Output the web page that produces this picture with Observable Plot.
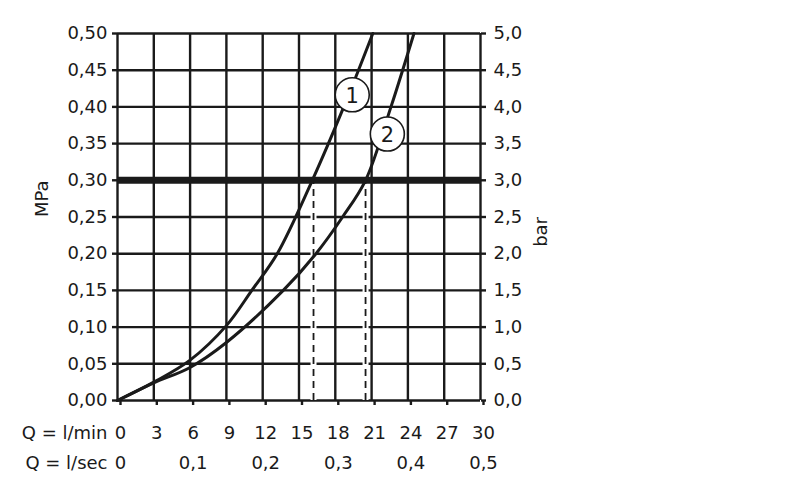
<!DOCTYPE html>
<html>
<head>
<meta charset="utf-8">
<script src="https://cdn.jsdelivr.net/npm/d3@7"></script>
<script src="https://cdn.jsdelivr.net/npm/@observablehq/plot@0.6"></script>
<style>
  html, body { margin: 0; padding: 0; background: #fff; }
  #wrap { position: relative; width: 800px; height: 495px; }
  #title { position: absolute; left: 636px; top: 26px; font-family: "Liberation Sans", Arial, sans-serif; font-size: 20px; color: #111; white-space: nowrap; }
</style>
</head>
<body>
<div id="wrap"><div id="title">Отвод ванны</div></div>
<script>
// Tick values / labels
const pressureTicks = [0, 0.05, 0.10, 0.15, 0.20, 0.25, 0.30, 0.35, 0.40, 0.45, 0.50];
const flowTicks = [0, 3, 6, 9, 12, 15, 18, 21, 24, 27, 30];
const secTicks = [0, 6, 12, 18, 24, 30];
const secLabels = ["0", "0,1", "0,2", "0,3", "0,4", "0,5"];

// Curve 1 (l/min vs MPa)
const curve1Q = [0, 3, 6, 9, 11.1, 13.2, 16.1, 18.7, 21.1];
const curve1P = [0, 0.025, 0.055, 0.102, 0.15, 0.20, 0.30, 0.40, 0.50];
// Curve 2
const curve2Q = [0, 3, 6, 9, 13.7, 16.4, 18.6, 20.5, 22.6, 24.5];
const curve2P = [0, 0.024, 0.045, 0.079, 0.15, 0.20, 0.25, 0.30, 0.40, 0.50];

// Reference pressure line and flow markers
const refPressure = [0.30];
const markerQ = [16.2, 20.5];

// Curve labels
const labelNames = ["1", "2"];
const labelQ = [19.4, 22.3];
const labelP = [0.4165, 0.363];

const c1 = curve1Q.map((q, i) => ({q, p: curve1P[i]}));
const c2 = curve2Q.map((q, i) => ({q, p: curve2P[i]}));
const labels = labelNames.map((t, i) => ({t, q: labelQ[i], p: labelP[i]}));
const secData = secTicks.map((q, i) => ({q, t: secLabels[i]}));
const fmtMPa = d => d.toFixed(2).replace(".", ",");
const fmtBar = d => (d * 10).toFixed(1).replace(".", ",");
const ink = "#1a1a1a";

const chart = Plot.plot({
  width: 800,
  height: 495,
  marginLeft: 117,
  marginRight: 320,
  marginTop: 33,
  marginBottom: 95,
  style: {fontFamily: "DejaVu Sans", fontSize: "18px", color: ink, background: "white"},
  x: {domain: [0, 30]},
  y: {domain: [0, 0.5]},
  marks: [
    Plot.ruleX(flowTicks, {stroke: ink, strokeWidth: 2.4}),
    Plot.ruleY(pressureTicks, {stroke: ink, strokeWidth: 2.4}),
    Plot.axisY({anchor: "left", ticks: pressureTicks, tickFormat: fmtMPa, tickSize: 5, tickPadding: 5, strokeWidth: 2.4, fontSize: 18, label: null}),
    Plot.axisY({anchor: "right", ticks: pressureTicks, tickFormat: fmtBar, tickSize: 5, tickPadding: 8, strokeWidth: 2.4, fontSize: 18, label: null}),
    Plot.axisX({anchor: "bottom", ticks: flowTicks, tickFormat: d => String(d), tickSize: 5, tickPadding: 21, strokeWidth: 2.4, fontSize: 18, dx: 3, label: null}),
    Plot.text(secData, {x: "q", y: () => 0, text: "t", dy: 63, dx: 3, fontSize: 18, lineAnchor: "middle", fill: ink}),
    Plot.text(["Q = l/min"], {x: () => 0, y: () => 0, text: d => d, dx: -10, dy: 33, textAnchor: "end", lineAnchor: "middle", fontSize: 18, fill: ink}),
    Plot.text(["Q = l/sec"], {x: () => 0, y: () => 0, text: d => d, dx: -10, dy: 63, textAnchor: "end", lineAnchor: "middle", fontSize: 18, fill: ink}),
    Plot.text(["MPa"], {frameAnchor: "left", text: d => d, rotate: -90, dx: -75, fontSize: 18, fill: ink}),
    Plot.text(["bar"], {frameAnchor: "right", text: d => d, rotate: -90, dx: 61, fontSize: 18, fill: ink}),
    Plot.ruleX(markerQ, {y1: 0, y2: refPressure[0], stroke: "white", strokeWidth: 6}),
    Plot.ruleX(markerQ, {y1: 0, y2: refPressure[0], stroke: ink, strokeWidth: 1.8, strokeDasharray: "7,5"}),
    Plot.ruleY(refPressure, {stroke: ink, strokeWidth: 7}),
    Plot.line(c1, {x: "q", y: "p", stroke: ink, strokeWidth: 3, curve: "catmull-rom"}),
    Plot.line(c2, {x: "q", y: "p", stroke: ink, strokeWidth: 3, curve: "catmull-rom"}),
    Plot.dot(labels, {x: "q", y: "p", r: 17, fill: "white", stroke: ink, strokeWidth: 1.6}),
    Plot.text(labels, {x: "q", y: "p", text: "t", fontSize: 21, fill: ink, dy: 1})
  ]
});
document.getElementById("wrap").appendChild(chart);
chart.style.position = "absolute";
chart.style.left = "0";
chart.style.top = "0";
</script>
</body>
</html>
